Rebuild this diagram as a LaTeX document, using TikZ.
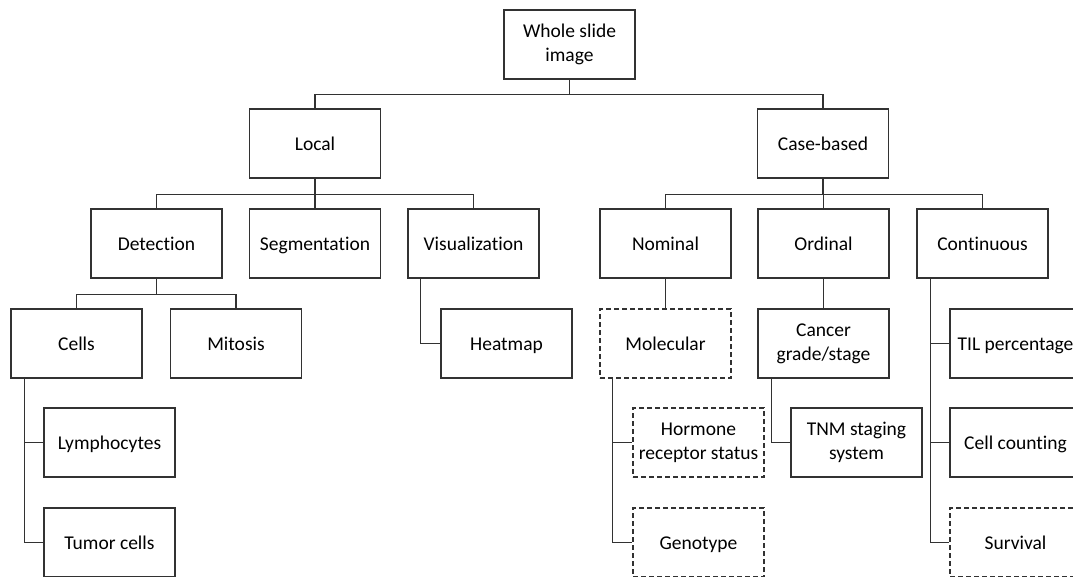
\documentclass[tikz,border=0pt]{standalone}
\usepackage{fontspec}
\setmainfont[Ligatures=NoCommon]{Carlito}
\definecolor{linecol}{RGB}{50,50,50}
\tikzset{
  basebox/.style={draw=linecol, line width=1.3pt, minimum width=131pt, minimum height=69pt,
    inner sep=2pt, align=center, font=\fontsize{19.5}{24}\selectfont, text=black},
  box/.style={basebox, text height=15pt, text depth=2pt},
  tbox/.style={basebox},
  dbox/.style={box, dash pattern=on 5pt off 3pt},
  dtbox/.style={tbox, dash pattern=on 5pt off 3pt},
  conn/.style={draw=linecol, line width=1.5pt}
}
\begin{document}
\begin{tikzpicture}[x=1pt,y=-1pt]
\useasboundingbox (0,0) rectangle (1073,576);
\clip (0,0) rectangle (1073,576);
% level 0
\node[tbox] (wsi) at (569.5,44.5) {Whole slide\\image};
% level 1
\node[box] (local) at (315,143.5) {Local};
\node[box] (case) at (823,143.5) {Case-based};
% level 2
\node[box] (det) at (156.5,243.5) {Detection};
\node[box] (seg) at (315,243.5) {Segmentation};
\node[box] (vis) at (473.5,243.5) {Visualization};
\node[box] (nom) at (665.5,243.5) {Nominal};
\node[box] (ord) at (823.5,243.5) {Ordinal};
\node[box] (cont) at (982.5,243.5) {Continuous};
% level 3
\node[box] (cells) at (76.5,343.5) {Cells};
\node[box] (mit) at (236,343.5) {Mitosis};
\node[box] (heat) at (506.5,343.5) {Heatmap};
\node[dbox] (mol) at (665.5,343.5) {Molecular};
\node[tbox] (grade) at (823.5,343.5) {Cancer\\grade/stage};
\node[box] (til) at (1015.5,343.5) {TIL percentage};
% level 4
\node[box] (lym) at (109.5,442.5) {Lymphocytes};
\node[dtbox] (horm) at (698.5,442.5) {Hormone\\receptor status};
\node[tbox] (tnm) at (856.5,442.5) {TNM staging\\system};
\node[box] (count) at (1015.5,442.5) {Cell counting};
% level 5
\node[box] (tum) at (109.5,542.5) {Tumor cells};
\node[dbox] (geno) at (698.5,542.5) {Genotype};
\node[dbox] (surv) at (1015.5,542.5) {Survival};
% connectors
\draw[conn] (wsi.south) -- ++(0,15) -| (local.north);
\draw[conn] (wsi.south) -- ++(0,15) -| (case.north);
\draw[conn] (local.south) -- ++(0,16) -| (det.north);
\draw[conn] (local.south) -- (seg.north);
\draw[conn] (local.south) -- ++(0,16) -| (vis.north);
\draw[conn] (case.south) -- ++(0,16) -| (nom.north);
\draw[conn] (case.south) -- ++(0,16) -| (ord.north);
\draw[conn] (case.south) -- ++(0,16) -| (cont.north);
\draw[conn] (det.south) -- ++(0,16) -| (cells.north);
\draw[conn] (det.south) -- ++(0,16) -| (mit.north);
\draw[conn] ([xshift=13pt]vis.south west) |- (heat.west);
\draw[conn] (nom.south) -- (mol.north);
\draw[conn] (ord.south) -- (grade.north);
\draw[conn] ([xshift=14pt]cont.south west) |- (til.west);
\draw[conn] ([xshift=14pt]cont.south west) |- (count.west);
\draw[conn] ([xshift=14pt]cont.south west) |- (surv.west);
\draw[conn] ([xshift=14pt]cells.south west) |- (lym.west);
\draw[conn] ([xshift=14pt]cells.south west) |- (tum.west);
\draw[conn] ([xshift=13pt]mol.south west) |- (horm.west);
\draw[conn] ([xshift=13pt]mol.south west) |- (geno.west);
\draw[conn] ([xshift=14pt]grade.south west) |- (tnm.west);
\end{tikzpicture}
\end{document}
